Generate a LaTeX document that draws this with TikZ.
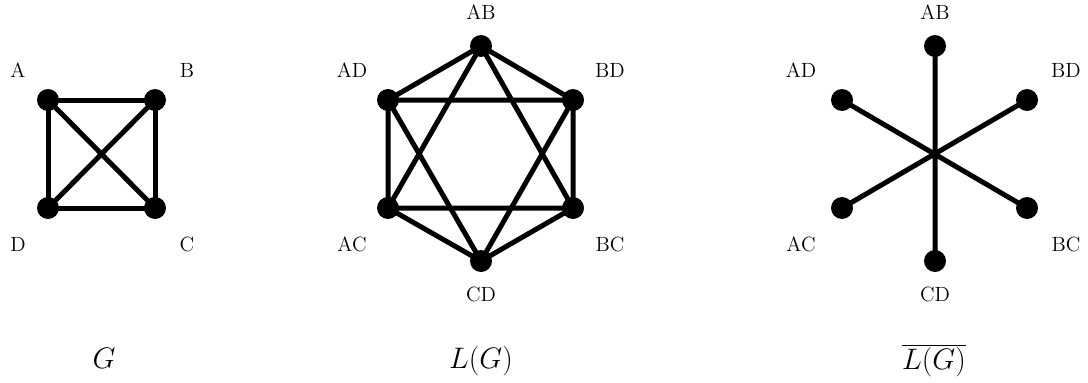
\documentclass[tikz,border=0pt]{standalone}
\begin{document}
\begin{tikzpicture}[x=0.7pt,y=-0.7pt,
  vtx/.style={circle,fill=black,inner sep=0pt,minimum size=15.4pt},
  edge/.style={line width=3.5pt},
  lbl/.style={font=\Large,inner sep=0pt},
  captxt/.style={font=\huge,inner sep=0pt}]
\useasboundingbox (0,0) rectangle (1088,382);
% G
\node[vtx] (A) at (48,100) {};
\node[vtx] (B) at (155,100) {};
\node[vtx] (C) at (155,208) {};
\node[vtx] (D) at (48,208) {};
\draw[edge] (A.center)--(B.center)--(C.center)--(D.center)--cycle;
\draw[edge] (A.center)--(C.center) (B.center)--(D.center);
\node[lbl] (lA) at (18,70) {A};
\node[lbl] (lB) at (187,70) {B};
\node[lbl] (lC) at (187,244) {C};
\node[lbl] (lD) at (18,244) {D};
% L(G)
\node[vtx] (mAB) at (481,46) {};
\node[vtx] (mBD) at (573,100) {};
\node[vtx] (mBC) at (573,208) {};
\node[vtx] (mCD) at (481,261) {};
\node[vtx] (mAC) at (388,208) {};
\node[vtx] (mAD) at (388,100) {};
\draw[edge] (mAB.center)--(mBD.center)--(mBC.center)--(mCD.center)--(mAC.center)--(mAD.center)--cycle;
\draw[edge] (mAB.center)--(mAC.center)--(mBC.center)--cycle;
\draw[edge] (mCD.center)--(mAD.center)--(mBD.center)--cycle;
\node[lbl] (lmAB) at (481,12) {AB};
\node[lbl] (lmBD) at (610,70) {BD};
\node[lbl] (lmBC) at (610,244) {BC};
\node[lbl] (lmCD) at (481,294) {CD};
\node[lbl] (lmAC) at (352,244) {AC};
\node[lbl] (lmAD) at (352,70) {AD};
% complement
\node[vtx] (rAB) at (935,46) {};
\node[vtx] (rBD) at (1027,100) {};
\node[vtx] (rBC) at (1027,208) {};
\node[vtx] (rCD) at (935,261) {};
\node[vtx] (rAC) at (842,208) {};
\node[vtx] (rAD) at (842,100) {};
\draw[edge] (rAB.center)--(rCD.center) (rAD.center)--(rBC.center) (rBD.center)--(rAC.center);
\node[lbl] (lrAB) at (935,12) {AB};
\node[lbl] (lrBD) at (1066,70) {BD};
\node[lbl] (lrBC) at (1066,244) {BC};
\node[lbl] (lrCD) at (935,294) {CD};
\node[lbl] (lrAC) at (801,244) {AC};
\node[lbl] (lrAD) at (801,70) {AD};
% captions
\node[captxt] (cG) at (104,358) {$G$};
\node[captxt] (cL) at (481,361) {$L(G)$};
\node[captxt,anchor=base] (cLbar) at (934,369) {$\overline{L(G)}$};
\end{tikzpicture}
\end{document}
